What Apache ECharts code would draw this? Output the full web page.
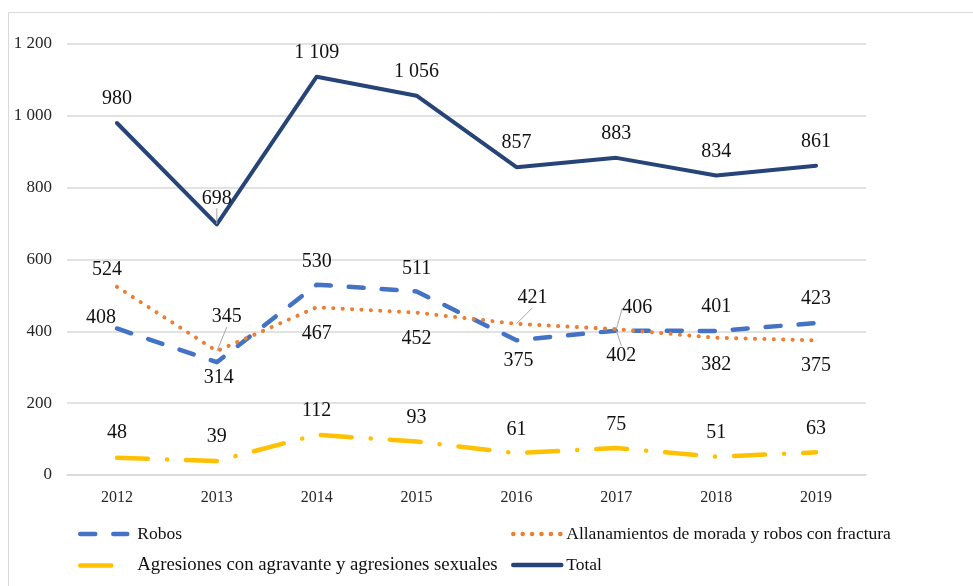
<!DOCTYPE html>
<html>
<head>
<meta charset="utf-8">
<script src="https://cdn.jsdelivr.net/npm/echarts@6/dist/echarts.min.js"></script>
<style>
html, body { margin: 0; padding: 0; background: #fff; }
#main { width: 973px; height: 586px; }
</style>
</head>
<body>
<div id="main"></div>
<script>
// datos
var years = ['2012', '2013', '2014', '2015', '2016', '2017', '2018', '2019'];
var robos = [408, 314, 530, 511, 375, 402, 401, 423];
var allanamientos = [524, 345, 467, 452, 421, 406, 382, 375];
var agresiones = [48, 39, 112, 93, 61, 75, 51, 63];
var total = [980, 698, 1109, 1056, 857, 883, 834, 861];
var names = ['Robos', 'Allanamientos de morada y robos con fractura',
	'Agresiones con agravante y agresiones sexuales', 'Total'];

// colocacion de etiquetas (dx, dy desde el punto) y lineas guia
var robosOff = [[-16, -11], [2, 16], [0, -23], [0, -23], [2, 20], [5, 25], [0, -24], [0, -24]];
var allanOff = [[-10, -17], [10, -34], [0, 26], [0, 26], [16, -26], [21, -21], [0, 27], [0, 25]];
var agresOff = [[0, -25], [0, -24], [0, -24], [0, -24], [0, -23], [0, -23], [0, -24], [0, -24]];
var totalOff = [[0, -24], [0, -26], [0, -24], [0, -24], [0, -24], [0, -24], [0, -24], [0, -24]];
var robosGuide = [0, 0, 0, 0, 0, 1, 0, 0];
var allanGuide = [0, 1, 0, 0, 1, 1, 0, 0];
var totalGuide = [0, 1, 0, 0, 0, 0, 0, 0];
var noGuide = [0, 0, 0, 0, 0, 0, 0, 0];

var font = '"Liberation Serif", "Times New Roman", serif';

function fmt(v) {
	return String(v).replace(/\B(?=(\d{3})+(?!\d))/g, ' ');
}

function items(vals, guide) {
	return vals.map(function(v, i) {
		return {
			value: v,
			labelLine: { show: !!guide[i], lineStyle: { color: '#a6a6a6', width: 1 } }
		};
	});
}

function mkSeries(name, vals, off, guide, color, width, dash, cap) {
	return {
		name: name,
		type: 'line',
		data: items(vals, guide),
		symbol: 'circle',
		symbolSize: 0.5,
		itemStyle: { color: color },
		lineStyle: { color: color, width: width, type: dash, cap: cap, join: 'round' },
		label: {
			show: true,
			position: 'inside',
			fontFamily: font,
			fontSize: 20,
			color: '#111',
			formatter: function(p) { return fmt(p.value); }
		},
		labelLayout: function(p) {
			return { dx: off[p.dataIndex][0], dy: off[p.dataIndex][1] };
		},
		z: 2
	};
}

var legendBase = {
	orient: 'vertical',
	top: 525,
	padding: 0,
	itemHeight: 14,
	itemGap: 13,
	itemStyle: { opacity: 0 },
	lineStyle: { width: 4.5 }
};

var dom = document.getElementById('main');
var myChart = echarts.init(dom);
var option = {
	animation: false,
	backgroundColor: '#fff',
	graphic: [{
		type: 'rect',
		shape: { x: 8.5, y: 12.5, width: 1000, height: 1000 },
		style: { fill: 'none', stroke: '#d9d9d9', lineWidth: 1 },
		silent: true
	}],
	grid: { left: 67, right: 107, top: 44, bottom: 111 },
	legend: [
		echarts.util.merge({
			data: [names[0], { name: names[2], textStyle: { fontSize: 18.8 } }],
			left: 78, itemWidth: 47,
			textStyle: { fontFamily: font, fontSize: 17.5, color: '#111', padding: [0, 0, 0, 5] }
		}, legendBase),
		echarts.util.merge({
			data: [names[1], names[3]],
			left: 511, itemWidth: 48,
			textStyle: { fontFamily: font, fontSize: 17.5, color: '#111' }
		}, legendBase)
	],
	xAxis: {
		type: 'category',
		data: years,
		axisLine: { lineStyle: { color: '#d9d9d9', width: 1.5 } },
		axisTick: { show: false },
		axisLabel: { fontFamily: font, fontSize: 16, color: '#262626', margin: 15 }
	},
	yAxis: {
		type: 'value',
		min: 0,
		max: 1200,
		interval: 200,
		axisLine: { show: false },
		axisTick: { show: false },
		splitLine: { lineStyle: { color: '#d9d9d9', width: 1.5 } },
		axisLabel: {
			fontFamily: font, fontSize: 17, color: '#262626', margin: 15,
			formatter: fmt
		}
	},
	series: [
		mkSeries(names[0], robos, robosOff, robosGuide, '#4472C4', 4.5, [15, 18], 'round'),
		mkSeries(names[1], allanamientos, allanOff, allanGuide, '#ED7D31', 4, [0.1, 9.3], 'round'),
		mkSeries(names[2], agresiones, agresOff, noGuide, '#FFC000', 4.5, [31, 19, 0.1, 19], 'round'),
		mkSeries(names[3], total, totalOff, totalGuide, '#264478', 4, 'solid', 'round')
	]
};
myChart.setOption(option, true);
</script>
</body>
</html>
